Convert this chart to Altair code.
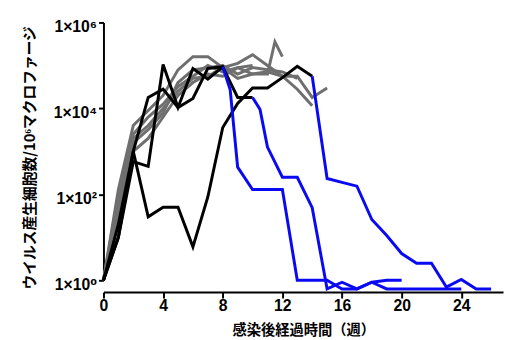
import altair as alt
import pandas as pd

# ---- data (virus-producing cells per 10^6 macrophages) ----
gray1_weeks = [0, 1, 2, 3, 4, 5, 6, 7, 8, 9, 10, 11, 12, 13, 14]
gray1_vals = [1, 130, 4000, 8900, 20000, 79000, 160000, 160000, 89000, 112000, 178000, 100000, 56000, 28000, 11500]
gray2_weeks = [0, 1, 2, 3, 4, 5, 6, 7, 8, 9, 10, 11, 11.5, 12]
gray2_vals = [1, 63, 2000, 4000, 10000, 25000, 50000, 56000, 89000, 50000, 63000, 63000, 355000, 160000]
gray3_weeks = [0, 1, 2, 3, 4, 5, 6, 7, 8, 9, 10, 11, 12, 13, 14, 15]
gray3_vals = [1, 32, 1000, 2000, 6300, 20000, 40000, 63000, 56000, 89000, 63000, 71000, 56000, 56000, 18000, 30000]
gray4_weeks = [0, 1, 2, 3, 4, 5, 6, 7, 8, 9, 10, 11, 12, 13]
gray4_vals = [1, 50, 1600, 3200, 7900, 40000, 79000, 89000, 100000, 63000, 89000, 79000, 71000, 50000]
gray5_weeks = [0, 1, 2, 3, 4, 5, 6, 7, 8, 9, 10]
gray5_vals = [1, 100, 2500, 6300, 12600, 32000, 56000, 100000, 71000, 89000, 100000]

blackA_weeks = [0, 1, 2, 3, 4, 5, 6, 7, 8, 9, 10, 11, 12, 13, 14]
blackA_vals = [1, 10, 1000, 30, 50, 50, 6, 87, 3600, 13000, 30000, 30000, 52000, 95000, 56000]
blackB_weeks = [0, 1, 2, 3, 4, 5, 6, 7, 8]
blackB_vals = [1, 20, 1000, 18000, 28000, 10500, 17000, 85000, 93000]
blackC_weeks = [0, 1, 2, 3, 4, 5, 6, 7, 8, 9, 10]
blackC_vals = [1, 10, 580, 450, 105000, 10500, 85000, 48000, 93000, 18000, 18000]

blueA_weeks = [14, 15, 16, 17, 18, 19, 20, 21, 22, 23, 24, 25, 26]
blueA_vals = [56000, 234, 190, 155, 26, 11, 4.2, 2.5, 2.5, 0.7, 1.05, 0.63, 0.63]
blueB_weeks = [8, 8.5, 9, 10, 11, 12, 13, 14, 15, 16, 17, 18, 19, 20]
blueB_vals = [93000, 27000, 430, 130, 130, 130, 1, 1, 1, 0.63, 0.63, 0.9, 1, 1]
blueC_weeks = [10, 10.5, 11, 12, 13, 14, 15, 16, 17, 18, 19, 20, 21, 22, 23, 24]
blueC_vals = [18000, 9500, 1260, 250, 250, 49, 0.63, 0.9, 0.63, 0.9, 0.63, 0.63, 0.63, 0.63, 0.63, 0.63]

x_ticks = [0, 4, 8, 12, 16, 20, 24]
y_ticks = [1, 100, 10000, 1000000]
y_tick_labels = ["1×10⁰", "1×10²", "1×10⁴", "1×10⁶"]

x_title = "感染後経過時間（週）"
y_title = "ウイルス産生細胞数/10⁶マクロファージ"

series = [
    ("gray1", "gray", gray1_weeks, gray1_vals),
    ("gray2", "gray", gray2_weeks, gray2_vals),
    ("gray3", "gray", gray3_weeks, gray3_vals),
    ("gray4", "gray", gray4_weeks, gray4_vals),
    ("gray5", "gray", gray5_weeks, gray5_vals),
    ("blackA", "black", blackA_weeks, blackA_vals),
    ("blackB", "black", blackB_weeks, blackB_vals),
    ("blackC", "black", blackC_weeks, blackC_vals),
    ("blueA", "blue", blueA_weeks, blueA_vals),
    ("blueB", "blue", blueB_weeks, blueB_vals),
    ("blueC", "blue", blueC_weeks, blueC_vals),
]
rows = []
for sid, grp, ws, vs in series:
    for w, v in zip(ws, vs):
        rows.append({"series": sid, "group": grp, "week": w, "value": v})
df = pd.DataFrame(rows)

label_expr = " : ".join(
    f"datum.value == {v} ? '{l}'" for v, l in zip(y_ticks, y_tick_labels)
) + " : ''"

LABEL_FONT = "Liberation Sans, DejaVu Sans"
TITLE_FONT = "Noto Sans CJK JP"

x_enc = alt.X(
    "week:Q",
    scale=alt.Scale(domain=[0, 26.8], nice=False, zero=False),
    axis=alt.Axis(
        values=x_ticks, offset=12, title=x_title, grid=False,
        domainWidth=2, domainColor="black", tickWidth=2, tickSize=6, tickColor="black",
        labelFont=LABEL_FONT, labelFontSize=16, labelFontWeight="bold", labelColor="black",
        labelPadding=0, labelFlush=False,
        titleFont=TITLE_FONT, titleFontSize=14.5, titleFontWeight="bold", titleColor="black",
        titleY=39, titleBaseline="middle", titleX=203,
    ),
)
y_enc = alt.Y(
    "value:Q",
    scale=alt.Scale(type="log", domain=[1, 1000000], nice=False),
    axis=alt.Axis(
        values=y_ticks, labelExpr=label_expr, title=y_title, grid=False,
        domainWidth=2, domainColor="black", tickWidth=2, tickSize=5, tickColor="black",
        labelFont=LABEL_FONT, labelFontSize=16, labelFontWeight="bold", labelColor="black",
        labelPadding=2, labelOffset=4,
        titleFont=TITLE_FONT, titleFontSize=15, titleFontWeight="bold", titleColor="black",
        titleAngle=-90, titleX=-75, titleY=137, titleAlign="center", titleBaseline="middle",
    ),
)

colors = {"gray": "#6f6f6f", "black": "#000000", "blue": "#0a0af2"}
layers = []
for grp in ["gray", "black", "blue"]:
    layers.append(
        alt.Chart(df[df["group"] == grp])
        .mark_line(strokeWidth=3, color=colors[grp], strokeJoin="miter", clip=False)
        .encode(x=x_enc, y=y_enc, detail="series:N", order="week:Q")
    )

chart = (
    alt.layer(*layers)
    .properties(
        width=406, height=262,
        autosize=alt.AutoSizeParams(type="none"),
        padding={"left": 97, "top": 12, "right": 2, "bottom": 60},
    )
    .configure_view(stroke=None)
)

chart.save("out.html", embed_options={"renderer": "svg", "actions": False})
